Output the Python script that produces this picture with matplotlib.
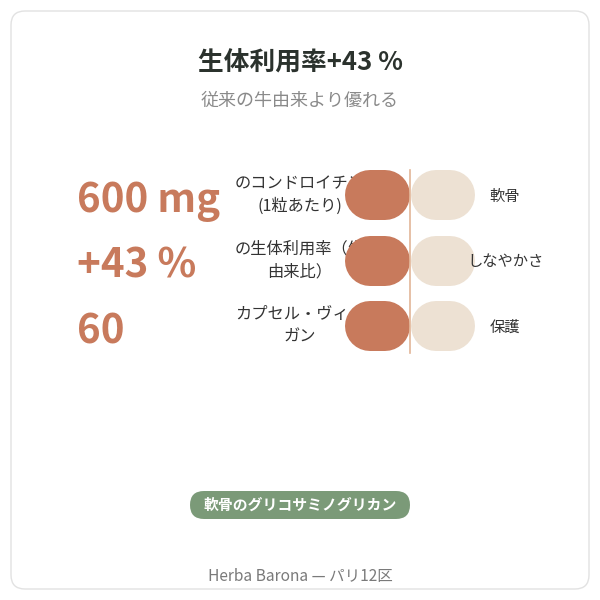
import matplotlib.pyplot as plt
from matplotlib.patches import FancyBboxPatch
import numpy as np

plt.rcParams['font.family'] = ['Noto Sans CJK JP', 'DejaVu Sans']

title = '生体利用率+43 %'
subtitle = '従来の牛由来より優れる'
values = ['600 mg', '+43 %', '60']
labels = ['のコンドロイチン\n(1粒あたり)', 'の生体利用率（牛\n由来比）', 'カプセル・ヴィー\nガン']
right_labels = ['軟骨', 'しなやかさ', '保護']
badge = '軟骨のグリコサミノグリカン'
footer = 'Herba Barona — パリ12区'

terra = '#c87a5c'
beige = '#ede1d3'
green = '#7b9a78'

fig = plt.figure(figsize=(6, 6), dpi=100)
ax = fig.add_axes([0, 0, 1, 1])
ax.set_xlim(0, 600)
ax.set_ylim(600, 0)
ax.axis('off')

# card
ax.add_patch(FancyBboxPatch((11, 11), 578, 578, boxstyle='round,pad=0,rounding_size=14',
                            fc='white', ec='#e2e2e2', lw=1, zorder=0))

ax.text(300, 63, title, ha='center', va='center', fontsize=18.5, fontweight='bold', color='#2b322d')
ax.text(300, 101, subtitle, ha='center', va='center', fontsize=13, color='#8a8a8a')

pill_w = 50 * 0.72  # pill height 50 px in points
ys = 195 + 65.5 * np.arange(len(values))
for y, v, lab, rl in zip(ys, values, labels, right_labels):
    ax.text(77, y + 6, v, ha='left', va='center', fontsize=29, fontweight='bold', color=terra)
    ax.text(300, y, lab, ha='center', va='center', fontsize=11.7, color='#333333',
            linespacing=1.4, zorder=2)
    ax.plot([370, 385], [y, y], color=terra, lw=pill_w, solid_capstyle='round', zorder=3)
    ax.plot([436, 450], [y, y], color=beige, lw=pill_w, solid_capstyle='round', zorder=3)
    ax.text(505, y + 1, rl, ha='center', va='center', fontsize=11, color='#333333', zorder=5)

ax.plot([409.5, 409.5], [ys[0] - 25, ys[-1] + 27], color='#e2b597', lw=1.2, zorder=4)

ax.add_patch(FancyBboxPatch((190, 491), 220, 28, boxstyle='round,pad=0,rounding_size=14',
                            fc=green, ec='none'))
ax.text(300, 505, badge, ha='center', va='center', fontsize=10.7, fontweight='bold', color='white')

ax.text(300, 577, footer, ha='center', va='center', fontsize=11.2, color='#7a7a7a')

fig.savefig('out.png', dpi=100)
